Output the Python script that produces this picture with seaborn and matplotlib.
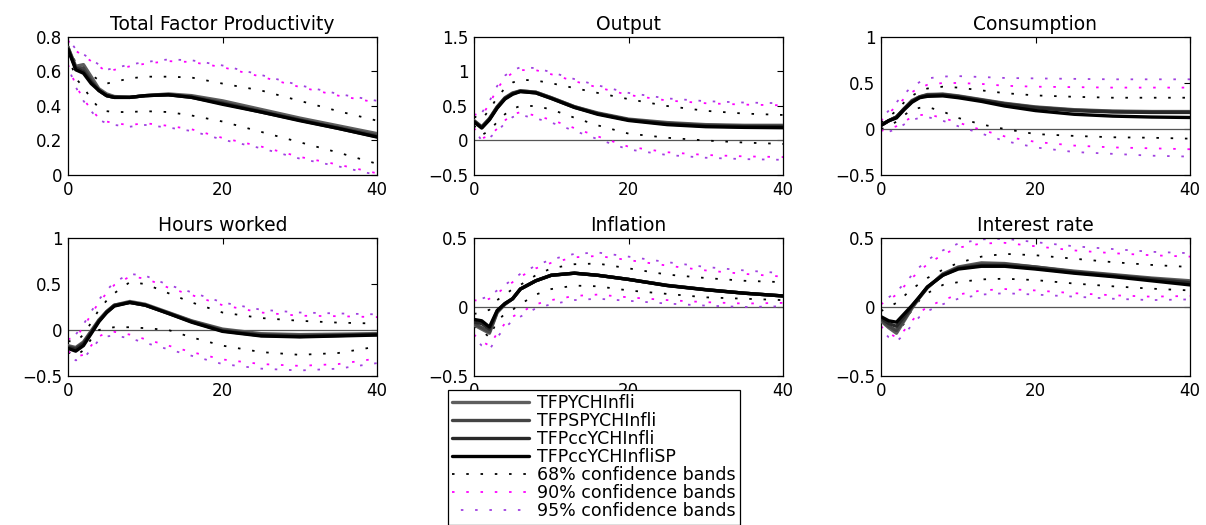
import matplotlib
matplotlib.use("Agg")
import matplotlib.pyplot as plt
from matplotlib.ticker import FuncFormatter
import seaborn as sns

horizon = [0, 1, 2, 3, 4, 5, 6, 8, 10, 13, 16, 20, 25, 30, 35, 40]

model_names = ["TFPYCHInfli", "TFPSPYCHInfli", "TFPccYCHInfli", "TFPccYCHInfliSP"]
band_names = ["68% confidence bands", "90% confidence bands", "95% confidence bands"]

# --- Total Factor Productivity
tfp_irf = [
    [0.74, 0.63, 0.64, 0.57, 0.50, 0.47, 0.455, 0.45, 0.46, 0.47, 0.46, 0.43, 0.38, 0.33, 0.285, 0.24],
    [0.74, 0.62, 0.62, 0.55, 0.49, 0.46, 0.45, 0.45, 0.46, 0.465, 0.455, 0.42, 0.37, 0.32, 0.275, 0.23],
    [0.73, 0.62, 0.60, 0.54, 0.49, 0.46, 0.45, 0.45, 0.46, 0.465, 0.45, 0.415, 0.365, 0.318, 0.27, 0.222],
    [0.73, 0.61, 0.59, 0.53, 0.49, 0.46, 0.45, 0.45, 0.46, 0.465, 0.45, 0.41, 0.365, 0.315, 0.27, 0.22],
]
tfp_lo68 = [0.70, 0.56, 0.51, 0.44, 0.39, 0.37, 0.365, 0.365, 0.37, 0.365, 0.345, 0.31, 0.25, 0.19, 0.13, 0.065]
tfp_hi68 = [0.75, 0.65, 0.62, 0.58, 0.55, 0.53, 0.54, 0.56, 0.57, 0.57, 0.565, 0.53, 0.49, 0.43, 0.37, 0.315]
tfp_lo90 = [0.64, 0.52, 0.44, 0.38, 0.33, 0.31, 0.30, 0.29, 0.30, 0.285, 0.265, 0.215, 0.165, 0.105, 0.06, 0.01]
tfp_hi90 = [0.78, 0.72, 0.69, 0.66, 0.63, 0.60, 0.61, 0.63, 0.645, 0.66, 0.655, 0.625, 0.57, 0.51, 0.46, 0.42]
tfp_lo95 = [0.63, 0.51, 0.43, 0.37, 0.32, 0.30, 0.29, 0.28, 0.29, 0.275, 0.255, 0.205, 0.155, 0.095, 0.05, 0.0]
tfp_hi95 = [0.79, 0.73, 0.70, 0.67, 0.64, 0.61, 0.62, 0.64, 0.655, 0.67, 0.665, 0.635, 0.58, 0.52, 0.47, 0.43]

# --- Output
out_irf = [
    [0.29, 0.20, 0.32, 0.49, 0.62, 0.69, 0.72, 0.70, 0.62, 0.49, 0.40, 0.31, 0.26, 0.23, 0.22, 0.22],
    [0.28, 0.19, 0.31, 0.48, 0.61, 0.68, 0.72, 0.70, 0.62, 0.49, 0.39, 0.30, 0.25, 0.22, 0.21, 0.21],
    [0.28, 0.19, 0.31, 0.48, 0.61, 0.68, 0.71, 0.69, 0.61, 0.48, 0.39, 0.30, 0.24, 0.21, 0.20, 0.20],
    [0.27, 0.18, 0.30, 0.47, 0.60, 0.67, 0.71, 0.69, 0.61, 0.48, 0.38, 0.29, 0.23, 0.20, 0.19, 0.185],
]
out_lo68 = [0.22, 0.08, 0.14, 0.27, 0.38, 0.46, 0.50, 0.50, 0.45, 0.33, 0.22, 0.10, 0.04, 0.0, -0.03, -0.05]
out_hi68 = [0.35, 0.30, 0.45, 0.62, 0.76, 0.84, 0.88, 0.87, 0.83, 0.76, 0.69, 0.60, 0.50, 0.43, 0.39, 0.37]
out_lo90 = [0.18, 0.03, 0.07, 0.17, 0.29, 0.38, 0.41, 0.36, 0.30, 0.18, 0.06, -0.09, -0.17, -0.21, -0.23, -0.24]
out_hi90 = [0.38, 0.36, 0.53, 0.75, 0.90, 0.98, 1.02, 1.02, 0.96, 0.86, 0.77, 0.66, 0.58, 0.54, 0.52, 0.51]
out_lo95 = [0.16, 0.0, 0.04, 0.13, 0.25, 0.34, 0.37, 0.32, 0.26, 0.14, 0.02, -0.13, -0.21, -0.25, -0.27, -0.28]
out_hi95 = [0.40, 0.40, 0.57, 0.79, 0.94, 1.02, 1.06, 1.05, 0.99, 0.89, 0.80, 0.69, 0.61, 0.57, 0.55, 0.54]

# --- Consumption
con_irf = [
    [0.04, 0.09, 0.13, 0.22, 0.31, 0.35, 0.375, 0.38, 0.36, 0.32, 0.28, 0.24, 0.21, 0.195, 0.19, 0.19],
    [0.04, 0.09, 0.13, 0.22, 0.30, 0.35, 0.37, 0.375, 0.355, 0.315, 0.275, 0.235, 0.205, 0.19, 0.185, 0.185],
    [0.04, 0.09, 0.13, 0.22, 0.30, 0.345, 0.365, 0.37, 0.35, 0.31, 0.27, 0.23, 0.20, 0.185, 0.18, 0.18],
    [0.04, 0.09, 0.12, 0.21, 0.29, 0.34, 0.355, 0.36, 0.34, 0.30, 0.25, 0.20, 0.16, 0.14, 0.13, 0.125],
]
con_lo68 = [0.0, 0.03, 0.08, 0.15, 0.21, 0.23, 0.24, 0.19, 0.12, 0.05, 0.0, -0.055, -0.075, -0.09, -0.095, -0.105]
con_hi68 = [0.07, 0.13, 0.20, 0.29, 0.36, 0.41, 0.44, 0.46, 0.45, 0.42, 0.39, 0.365, 0.35, 0.34, 0.34, 0.34]
con_lo90 = [-0.02, 0.0, 0.03, 0.08, 0.13, 0.15, 0.16, 0.12, 0.07, -0.01, -0.08, -0.14, -0.18, -0.20, -0.21, -0.22]
con_hi90 = [0.09, 0.17, 0.25, 0.33, 0.40, 0.45, 0.48, 0.50, 0.50, 0.49, 0.47, 0.46, 0.455, 0.45, 0.45, 0.45]
con_lo95 = [-0.04, -0.03, 0.0, 0.05, 0.10, 0.12, 0.13, 0.09, 0.03, -0.05, -0.13, -0.20, -0.25, -0.27, -0.29, -0.30]
con_hi95 = [0.11, 0.20, 0.29, 0.38, 0.46, 0.51, 0.55, 0.57, 0.575, 0.565, 0.555, 0.55, 0.545, 0.54, 0.54, 0.54]

# --- Hours worked
hrs_irf = [
    [-0.17, -0.19, -0.13, -0.01, 0.11, 0.20, 0.27, 0.31, 0.28, 0.19, 0.10, 0.01, -0.04, -0.05, -0.045, -0.04],
    [-0.18, -0.20, -0.14, -0.02, 0.10, 0.20, 0.27, 0.30, 0.27, 0.185, 0.095, 0.0, -0.05, -0.06, -0.055, -0.045],
    [-0.19, -0.21, -0.15, -0.03, 0.10, 0.19, 0.265, 0.30, 0.27, 0.18, 0.09, -0.01, -0.06, -0.07, -0.06, -0.05],
    [-0.20, -0.23, -0.17, -0.04, 0.09, 0.19, 0.26, 0.30, 0.27, 0.18, 0.085, -0.015, -0.065, -0.075, -0.065, -0.055],
]
hrs_lo68 = [-0.24, -0.28, -0.22, -0.10, 0.0, 0.02, 0.03, 0.03, 0.02, 0.0, -0.08, -0.17, -0.24, -0.27, -0.25, -0.18]
hrs_hi68 = [-0.12, -0.13, -0.05, 0.08, 0.22, 0.32, 0.40, 0.52, 0.50, 0.40, 0.30, 0.19, 0.13, 0.10, 0.08, 0.07]
hrs_lo90 = [-0.23, -0.29, -0.27, -0.17, -0.07, -0.03, -0.02, -0.05, -0.10, -0.17, -0.24, -0.32, -0.37, -0.39, -0.37, -0.31]
hrs_hi90 = [-0.10, -0.08, 0.03, 0.17, 0.30, 0.40, 0.49, 0.58, 0.56, 0.46, 0.38, 0.27, 0.19, 0.155, 0.15, 0.14]
hrs_lo95 = [-0.26, -0.33, -0.31, -0.21, -0.11, -0.07, -0.06, -0.09, -0.14, -0.21, -0.28, -0.37, -0.42, -0.44, -0.42, -0.36]
hrs_hi95 = [-0.08, -0.05, 0.06, 0.20, 0.33, 0.43, 0.52, 0.61, 0.59, 0.49, 0.41, 0.30, 0.22, 0.19, 0.18, 0.17]

# --- Inflation
inf_irf = [
    [-0.13, -0.16, -0.19, -0.04, 0.02, 0.06, 0.13, 0.19, 0.23, 0.245, 0.23, 0.20, 0.157, 0.126, 0.10, 0.08],
    [-0.12, -0.15, -0.18, -0.035, 0.02, 0.06, 0.13, 0.19, 0.23, 0.245, 0.23, 0.20, 0.157, 0.126, 0.10, 0.08],
    [-0.11, -0.12, -0.16, -0.03, 0.025, 0.06, 0.13, 0.19, 0.23, 0.245, 0.23, 0.20, 0.156, 0.125, 0.10, 0.08],
    [-0.09, -0.10, -0.145, -0.025, 0.025, 0.06, 0.13, 0.19, 0.23, 0.245, 0.23, 0.20, 0.155, 0.125, 0.10, 0.08],
]
inf_lo68 = [-0.14, -0.17, -0.22, -0.10, -0.05, -0.02, 0.02, 0.09, 0.13, 0.155, 0.15, 0.12, 0.095, 0.07, 0.06, 0.05]
inf_hi68 = [-0.05, -0.04, -0.02, 0.05, 0.09, 0.13, 0.16, 0.23, 0.28, 0.31, 0.315, 0.28, 0.235, 0.21, 0.19, 0.18]
inf_lo90 = [-0.20, -0.25, -0.28, -0.19, -0.12, -0.07, -0.04, 0.02, 0.05, 0.08, 0.09, 0.07, 0.05, 0.035, 0.025, 0.03]
inf_hi90 = [0.05, 0.04, 0.06, 0.10, 0.14, 0.18, 0.22, 0.28, 0.32, 0.36, 0.37, 0.34, 0.30, 0.265, 0.24, 0.22]
inf_lo95 = [-0.22, -0.28, -0.31, -0.22, -0.15, -0.10, -0.07, -0.01, 0.02, 0.05, 0.06, 0.045, 0.025, 0.01, 0.0, 0.005]
inf_hi95 = [0.07, 0.06, 0.08, 0.12, 0.16, 0.20, 0.24, 0.30, 0.345, 0.385, 0.395, 0.365, 0.325, 0.29, 0.265, 0.245]

# --- Interest rate
int_irf = [
    [-0.10, -0.15, -0.19, -0.10, -0.01, 0.07, 0.14, 0.24, 0.29, 0.32, 0.315, 0.29, 0.26, 0.235, 0.21, 0.19],
    [-0.09, -0.14, -0.17, -0.09, 0.0, 0.07, 0.14, 0.235, 0.285, 0.31, 0.31, 0.29, 0.255, 0.23, 0.205, 0.18],
    [-0.08, -0.12, -0.14, -0.07, 0.005, 0.075, 0.145, 0.23, 0.28, 0.30, 0.30, 0.28, 0.25, 0.225, 0.20, 0.175],
    [-0.07, -0.10, -0.11, -0.05, 0.01, 0.075, 0.145, 0.23, 0.275, 0.295, 0.295, 0.275, 0.245, 0.22, 0.19, 0.16],
]
int_lo68 = [-0.09, -0.14, -0.18, -0.12, -0.02, 0.05, 0.10, 0.16, 0.18, 0.20, 0.205, 0.195, 0.17, 0.15, 0.133, 0.12]
int_hi68 = [-0.03, 0.0, 0.03, 0.08, 0.13, 0.17, 0.21, 0.27, 0.32, 0.365, 0.385, 0.375, 0.35, 0.325, 0.305, 0.29]
int_lo90 = [-0.14, -0.19, -0.22, -0.17, -0.10, -0.04, 0.0, 0.05, 0.09, 0.12, 0.13, 0.12, 0.10, 0.085, 0.075, 0.08]
int_hi90 = [0.02, 0.05, 0.09, 0.15, 0.21, 0.26, 0.31, 0.38, 0.43, 0.46, 0.465, 0.44, 0.41, 0.39, 0.375, 0.365]
int_lo95 = [-0.16, -0.22, -0.25, -0.20, -0.13, -0.07, -0.03, 0.02, 0.06, 0.09, 0.10, 0.09, 0.075, 0.06, 0.05, 0.055]
int_hi95 = [0.04, 0.07, 0.11, 0.17, 0.23, 0.29, 0.34, 0.41, 0.46, 0.49, 0.495, 0.47, 0.44, 0.42, 0.40, 0.39]

panels = [
    ("Total Factor Productivity", tfp_irf, [tfp_lo68, tfp_hi68], [tfp_lo90, tfp_hi90], [tfp_lo95, tfp_hi95],
     (0, 0.8), [0, 0.2, 0.4, 0.6, 0.8]),
    ("Output", out_irf, [out_lo68, out_hi68], [out_lo90, out_hi90], [out_lo95, out_hi95],
     (-0.5, 1.5), [-0.5, 0, 0.5, 1, 1.5]),
    ("Consumption", con_irf, [con_lo68, con_hi68], [con_lo90, con_hi90], [con_lo95, con_hi95],
     (-0.5, 1), [-0.5, 0, 0.5, 1]),
    ("Hours worked", hrs_irf, [hrs_lo68, hrs_hi68], [hrs_lo90, hrs_hi90], [hrs_lo95, hrs_hi95],
     (-0.5, 1), [-0.5, 0, 0.5, 1]),
    ("Inflation", inf_irf, [inf_lo68, inf_hi68], [inf_lo90, inf_hi90], [inf_lo95, inf_hi95],
     (-0.5, 0.5), [-0.5, 0, 0.5]),
    ("Interest rate", int_irf, [int_lo68, int_hi68], [int_lo90, int_hi90], [int_lo95, int_hi95],
     (-0.5, 0.5), [-0.5, 0, 0.5]),
]

line_colors = ["#5e5e5e", "#444444", "#282828", "#000000"]
band_colors = ["#000000", "#ff00ff", "#a040e0"]
dotted = (0, (1.4, 6.5))

sns.set_theme(style="white")
plt.rcParams["font.family"] = ["DejaVu Sans"]
plt.rcParams["axes.edgecolor"] = "black"
plt.rcParams["text.color"] = "black"
plt.rcParams["axes.titlecolor"] = "black"

fig = plt.figure(figsize=(12.06, 5.25), dpi=100)
W, H = 1206, 525
lefts = [68, 474, 881]
tops = [37, 238]
aw, ah = 309, 138

fmt = FuncFormatter(lambda v, p: f"{v:g}".replace("-", "\u2212"))
handles = []

for i, (title, irf, b68, b90, b95, ylim, yticks) in enumerate(panels):
    r, c = divmod(i, 3)
    ax = fig.add_axes([lefts[c] / W, 1 - (tops[r] + ah) / H, aw / W, ah / H])

    if ylim[0] < 0:
        ax.axhline(0, color="#555555", lw=0.9, zorder=1)

    for band, col, off in zip([b68, b90, b95], band_colors, [0, 0, 3]):
        for vals in band:
            sns.lineplot(x=horizon, y=vals, ax=ax, color=col, lw=1.3,
                         linestyle=(off, dotted[1]), zorder=2)
    for vals, col in zip(irf, line_colors):
        sns.lineplot(x=horizon, y=vals, ax=ax, color=col, lw=2.4, zorder=3)

    if i == 0:
        handles = [l for l in ax.get_lines()]

    ax.set_xlim(0, 40)
    ax.set_ylim(*ylim)
    ax.set_xticks([0, 20, 40])
    ax.set_yticks(yticks)
    ax.yaxis.set_major_formatter(fmt)
    ax.set_title(title, fontsize=13.5, pad=5, color="black")
    ax.tick_params(direction="in", length=4, width=0.8, top=True, right=True,
                   labelsize=12, pad=4, colors="black")
    for s in ax.spines.values():
        s.set_linewidth(0.9)
        s.set_color("black")
    ax.set_xlabel("")
    ax.set_ylabel("")

# legend: 4 model lines, then one line per confidence band
band_lines = [handles[0], handles[2], handles[4]]
model_lines = handles[6:10]
leg = fig.legend(model_lines + band_lines, model_names + band_names,
                 loc="upper left", bbox_to_anchor=(448 / W, 1 - 390 / H),
                 fontsize=12.5, frameon=True, fancybox=False, framealpha=1,
                 edgecolor="black", handlelength=4.4, handletextpad=0.5,
                 labelspacing=0.0, borderpad=0.25, borderaxespad=0)
leg.get_frame().set_linewidth(0.9)
for t in leg.get_texts():
    t.set_color("black")

fig.savefig("out.png", dpi=100)
